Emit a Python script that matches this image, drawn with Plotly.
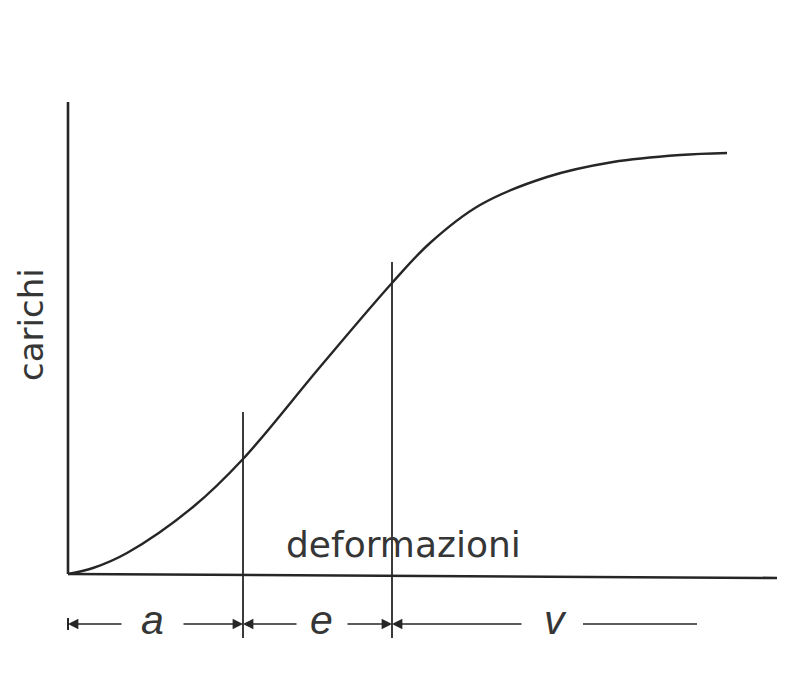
import plotly.graph_objects as go

# Load–deformation curve (deformation on x, load on y, arbitrary units)
deformazione = [0, 2.5, 5.9, 12.5, 17.5, 25.2, 32.4, 36.2, 41.2, 47.9, 54.5, 61.2, 65.9]
carico = [0, 0.6, 2.1, 6.7, 11.5, 20.7, 29.1, 33.1, 36.9, 39.7, 41.2, 41.9, 42.1]

# Axis extents
x_axis_end = 70.9
y_axis_end = 47.2

# Limits of the three ranges: a (initial), e (elastic), v (plastic)
limiti = [17.5, 32.4]
limiti_top = [16.2, 31.2]
limite_bottom = -6.4

# Dimension line
quota_y = -5.0
quota_start = 0.0
quota_end = 62.9
zone_labels = ["a", "e", "v"]
zone_label_x = [8.4, 25.3, 48.7]
# gaps left around each label in the dimension line
gap_left = [5.5, 23.0, 45.5]
gap_right = [11.4, 27.8, 51.5]

INK = "#262626"
TEXT = "#363636"

fig = go.Figure()

# axes
fig.add_trace(go.Scatter(x=[0, 0], y=[y_axis_end, 0], mode="lines",
                         line=dict(color=INK, width=2.6), hoverinfo="skip"))
fig.add_trace(go.Scatter(x=[0, x_axis_end], y=[0, -0.4], mode="lines",
                         line=dict(color=INK, width=2.6), hoverinfo="skip"))

# curve
fig.add_trace(go.Scatter(x=deformazione, y=carico, mode="lines",
                         line=dict(color=INK, width=2.4, shape="spline", smoothing=1.0),
                         hoverinfo="skip"))

# vertical limits
for xv, yt in zip(limiti, limiti_top):
    fig.add_trace(go.Scatter(x=[xv, xv], y=[yt, limite_bottom], mode="lines",
                             line=dict(color=INK, width=1.8), hoverinfo="skip"))

# small tick at the origin of the dimension line
fig.add_trace(go.Scatter(x=[quota_start, quota_start], y=[quota_y + 0.6, quota_y - 0.6],
                         mode="lines", line=dict(color=INK, width=2), hoverinfo="skip"))

annotations = []
bounds = [quota_start] + limiti + [quota_end]
for i in range(3):
    left, right = bounds[i], bounds[i + 1]
    # left part: arrow pointing to the left boundary
    annotations.append(dict(x=left, y=quota_y, ax=gap_left[i], ay=quota_y,
                            xref="x", yref="y", axref="x", ayref="y", text="",
                            showarrow=True, arrowhead=2, arrowsize=1.3,
                            arrowwidth=1.6, arrowcolor=INK, standoff=0))
    if i < 2:
        annotations.append(dict(x=right, y=quota_y, ax=gap_right[i], ay=quota_y,
                                xref="x", yref="y", axref="x", ayref="y", text="",
                                showarrow=True, arrowhead=2, arrowsize=1.3,
                                arrowwidth=1.6, arrowcolor=INK, standoff=0))
    else:
        fig.add_trace(go.Scatter(x=[gap_right[i], right], y=[quota_y, quota_y],
                                 mode="lines", line=dict(color=INK, width=1.6),
                                 hoverinfo="skip"))
    annotations.append(dict(x=zone_label_x[i], y=quota_y, xref="x", yref="y",
                            text="<i>%s</i>" % zone_labels[i], showarrow=False,
                            font=dict(family="Liberation Sans", size=41, color=TEXT),
                            yshift=4))

annotations.append(dict(x=33.5, y=3.0, xref="x", yref="y", text="deformazioni",
                        showarrow=False,
                        font=dict(family="DejaVu Sans", size=36, color=TEXT)))
annotations.append(dict(x=-3.7, y=24.9, xref="x", yref="y", text="carichi",
                        showarrow=False, textangle=-90,
                        font=dict(family="DejaVu Sans", size=34, color=TEXT)))

fig.update_layout(
    width=806, height=683, autosize=False,
    margin=dict(l=0, r=0, t=0, b=0, pad=0),
    paper_bgcolor="#ffffff", plot_bgcolor="#ffffff",
    showlegend=False,
    xaxis=dict(range=[-6.8, 73.8], visible=False, fixedrange=True),
    yaxis=dict(range=[-10.9, 57.4], visible=False, fixedrange=True),
    annotations=annotations,
)

fig.write_html("out.html")
